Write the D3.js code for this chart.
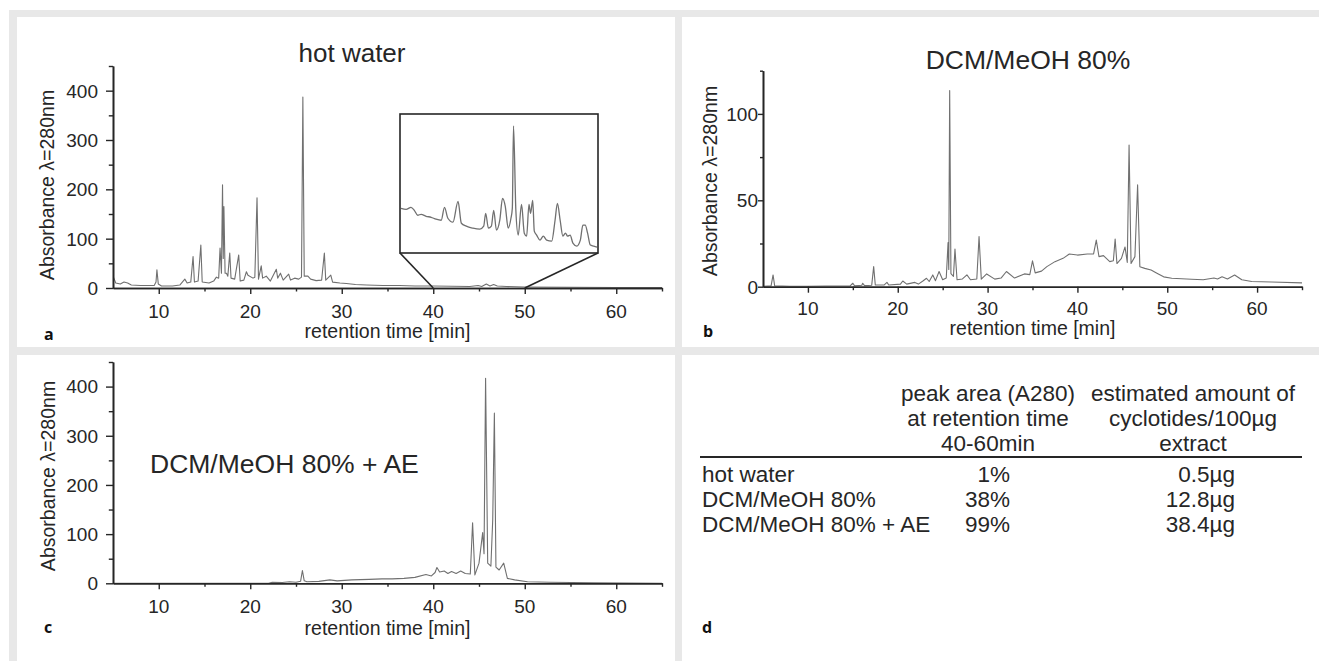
<!DOCTYPE html>
<html>
<head>
<meta charset="utf-8">
<script src="https://cdn.jsdelivr.net/npm/d3@7"></script>
<style>
  body { margin: 0; background: #fff; }
  svg { display: block; font-family: "Liberation Sans", Arial, sans-serif; }
</style>
</head>
<body>
<script>
// ---- data ----
// hot water chromatogram (a)
const hotTime = [5.05, 5.3, 5.8, 6.2, 6.6, 7.0, 8.0, 9.5, 9.7, 9.8, 9.95, 10.3, 11.5, 12.3, 12.85, 13.1, 13.5, 13.75, 13.9, 14.3,
    14.6, 14.75, 15.5, 16.0, 16.3, 16.55, 16.7, 16.85, 16.97, 17.05, 17.12, 17.25, 17.4, 17.55, 17.76, 17.9, 18.3, 18.74, 18.9, 19.3,
    19.58, 19.75, 20.3, 20.5, 20.74, 20.9, 21.2, 21.35, 21.75, 22.2, 22.85, 23.0, 23.3, 23.6, 24.2, 24.4, 24.85, 25.3, 25.6, 25.75,
    25.9, 26.3, 26.6, 27.2, 27.8, 28.1, 28.25, 28.8, 29.0, 29.8, 30.5, 31.5, 32.7, 34.5, 36.3, 38.0, 40.0, 42.0, 44.0, 44.9,
    45.3, 45.8, 46.2, 46.6, 47.0, 48.0, 50.0, 55.0, 60.0, 65.0];
const hotAbs = [22, 10, 8, 12, 10, 6, 5, 5, 12, 37, 8, 4, 4, 6, 18, 10, 12, 64, 12, 14,
    87, 12, 10, 14, 22, 20, 81, 30, 209, 60, 165, 30, 30, 24, 71, 20, 18, 67, 14, 16,
    33, 26, 20, 22, 183, 18, 45, 20, 24, 14, 38, 20, 30, 16, 28, 16, 20, 18, 22, 387,
    24, 24, 18, 15, 16, 71, 16, 26, 12, 10, 9, 7, 6, 5, 5, 4, 4, 3.5, 3, 5,
    3, 8, 4, 7, 4, 3, 2, 1.5, 1, 1];

// zoomed inset of (a), 40-50 min, relative units
const insetTime = [40.0, 40.26, 40.51, 40.68, 40.85, 41.03, 41.28, 41.54, 41.79, 42.05, 42.22, 42.39, 42.65, 42.91, 43.08, 43.33,
    43.67, 44.02, 44.22, 44.32, 44.46, 44.61, 44.73, 44.87, 45.04, 45.18, 45.32, 45.47, 45.61, 45.68, 45.74, 45.86, 45.98, 46.15,
    46.29, 46.41, 46.53, 46.61, 46.72, 46.8, 46.92, 47.09, 47.26, 47.43, 47.69, 47.86, 47.98, 48.12, 48.26, 48.39, 48.5, 48.63,
    48.77, 48.97, 49.15, 49.28, 49.4, 49.52, 49.66, 49.83, 50.0];
const insetAbs = [45, 44, 46, 43, 38, 39, 37, 36, 34, 33, 46, 35, 31, 52, 30, 27,
    25, 24, 27, 40, 25, 27, 43, 23, 33, 55, 47, 25, 35, 45, 128, 43, 18, 49,
    20, 17, 49, 40, 53, 22, 18, 13, 17, 13, 12, 33, 50, 33, 17, 20, 17, 18,
    10, 7, 13, 28, 28, 20, 8, 7, 6];

// DCM/MeOH 80% chromatogram (b)
const dcmTime = [5.1, 5.9, 6.12, 6.3, 8, 10, 12, 14.7, 15.0, 15.2, 16.0, 16.1, 16.3, 17.1, 17.32, 17.5, 18.5, 18.8, 19.0, 20.3,
    20.56, 21.0, 21.9, 22.3, 22.8, 23.2, 23.5, 23.9, 24.2, 24.6, 25.0, 25.4, 25.6, 25.68, 25.78, 25.92, 26.2, 26.37, 26.6, 27.2,
    27.7, 28.1, 28.8, 29.05, 29.3, 29.9, 30.8, 31.5, 32.1, 33.0, 34.1, 34.7, 35.0, 35.3, 36.0, 36.6, 37.5, 38.4, 39.1, 40.0,
    41.1, 41.8, 42.1, 42.4, 42.9, 43.6, 44.0, 44.2, 44.4, 44.9, 45.3, 45.55, 45.75, 45.97, 46.4, 46.7, 46.95, 47.5, 48.2, 48.9,
    49.6, 50.5, 52.7, 54.0, 55.2, 55.6, 56.1, 56.7, 57.5, 58.3, 59.4, 61.6, 65.0];
const dcmAbs = [0.3, 0.5, 6.8, 0.5, 0.3, 0.3, 0.4, 0.5, 2, 0.5, 0.8, 2, 0.6, 0.8, 11.6, 1, 1, 2.5, 1, 1.5,
    3.3, 1.5, 2.5, 1.5, 3.3, 4.9, 3, 6.8, 3.5, 8.8, 4, 5, 25.5, 10, 113.5, 7.6, 6, 21.8, 4, 4.5,
    6.8, 4, 4.5, 29, 4.4, 7.4, 4.4, 5, 8.8, 5, 7.4, 7, 15, 8, 9, 11.6, 14.5, 16.4, 18.9, 18.3,
    18.9, 19, 27, 17.4, 18, 14.5, 15, 27.6, 13.4, 16.4, 23, 14, 82, 13.4, 17.4, 58.9, 11.6, 10.6, 9.7, 7.7,
    5.7, 4.9, 4.3, 4, 5, 4.5, 5.7, 4.5, 6.8, 4, 3, 2.7, 2.2];

// DCM/MeOH 80% + AE chromatogram (c)
const aeTime = [5.0, 22.0, 22.4, 23.5, 24.3, 25.0, 25.5, 25.7, 25.9, 26.2, 27.5, 28.7, 29.5, 31.1, 33.0, 34.4, 35.5, 36.8, 38.0, 39.2,
    39.8, 40.2, 40.4, 40.7, 41.2, 41.6, 42.0, 42.5, 43.0, 43.5, 44.05, 44.3, 44.55, 45.0, 45.4, 45.55, 45.72, 45.95, 46.3, 46.5,
    46.68, 46.85, 47.2, 47.7, 48.1, 48.9, 50.3, 52.7, 57.5, 65.0];
const aeAbs = [0, 0, 2, 1.5, 3, 2, 4, 26, 5, 3, 4, 7, 5, 7, 8, 9, 9, 10, 12, 18,
    15, 22, 32, 23, 25, 20, 24, 20, 25, 20, 19, 123, 17, 41, 103, 60, 417, 41, 35, 129,
    346, 33, 27, 41, 10, 7, 3, 2, 1, 0];

// ticks
const xMajor = [10, 20, 30, 40, 50, 60];
const xMinor = [15, 25, 35, 45, 55, 65];
const yMajorBig = [0, 100, 200, 300, 400];
const yMinorBig = [50, 150, 250, 350, 450];
const yMajorB = [0, 50, 100];
const yMinorB = [25, 75, 125];

// table (d)
const headPeak = ['peak area (A280)', 'at retention time', '40-60min'];
const headAmount = ['estimated amount of', 'cyclotides/100µg', 'extract'];
const rowNames = ['hot water', 'DCM/MeOH 80%', 'DCM/MeOH 80% + AE'];
const rowPeak = ['1%', '38%', '99%'];
const rowAmount = ['0.5µg', '12.8µg', '38.4µg'];

// ---- drawing ----
const W = 1319, H = 661;
const ink = '#262626', trace = '#707070';

const svg = d3.select('body').append('svg').attr('width', W).attr('height', H);

// grey frame with four white panels
svg.append('rect').attr('x', 9).attr('y', 10).attr('width', W - 9).attr('height', H - 10).attr('fill', '#e8e8e8');
[[17, 17, 658, 330], [682, 17, 637, 330], [17, 355, 658, 306], [682, 355, 637, 306]].forEach(p => {
    svg.append('rect').attr('x', p[0]).attr('y', p[1]).attr('width', p[2]).attr('height', p[3]).attr('fill', '#fff');
});

function addText(g, str, x, y, opt) {
    const o = opt || {};
    const tf = `translate(${x},${y})` + (o.rotate ? ' rotate(-90)' : '');
    return g.append('text')
        .attr('transform', tf)
        .attr('text-anchor', o.anchor || 'middle')
        .attr('font-size', o.size || 18)
        .attr('font-weight', o.weight || 'normal')
        .attr('font-family', o.family || null)
        .attr('fill', o.fill || ink)
        .text(str);
}

function drawPanel(cfg) {
    const g = svg.append('g');
    const x = d3.scaleLinear().domain([5, 65]).range(cfg.xr);
    const y = d3.scaleLinear().domain([0, cfg.ymax]).range(cfg.yr);

    g.append('path')
        .datum(d3.zip(cfg.t, cfg.v))
        .attr('fill', 'none')
        .attr('stroke', trace)
        .attr('stroke-width', 1.1)
        .attr('stroke-linejoin', 'round')
        .attr('d', d3.line().x(d => x(d[0])).y(d => y(d[1])));

    const axisStyle = sel => {
        sel.select('.domain').attr('stroke', ink).attr('stroke-width', 1.6);
        sel.selectAll('.tick line').attr('stroke', ink).attr('stroke-width', 1.4);
    };

    g.append('g').attr('transform', `translate(0,${cfg.yr[0]})`)
        .call(d3.axisBottom(x).tickValues(xMajor).tickSize(6).tickSizeOuter(0).tickFormat(''))
        .call(axisStyle);
    g.append('g').attr('transform', `translate(0,${cfg.yr[0]})`)
        .call(d3.axisBottom(x).tickValues(xMinor).tickSize(3.5).tickSizeOuter(0).tickFormat(''))
        .call(axisStyle);
    g.append('g').attr('transform', `translate(${cfg.xr[0]},0)`)
        .call(d3.axisLeft(y).tickValues(cfg.yMajor).tickSize(cfg.yTick).tickSizeOuter(0).tickFormat(''))
        .call(axisStyle);
    g.append('g').attr('transform', `translate(${cfg.xr[0]},0)`)
        .call(d3.axisLeft(y).tickValues(cfg.yMinor).tickSize(cfg.yTick * 0.6).tickSizeOuter(0).tickFormat(''))
        .call(axisStyle);

    xMajor.forEach(v => addText(g, v, x(v), cfg.yr[0] + cfg.xLabDy, { size: cfg.tick }));
    cfg.yMajor.forEach(v => addText(g, v, cfg.xr[0] - cfg.yLabDx, y(v) + cfg.tick * 0.36, { size: cfg.tick, anchor: 'end' }));

    addText(g, 'retention time [min]', (cfg.xr[0] + cfg.xr[1]) / 2, cfg.xTitleY, { size: cfg.lab });
    addText(g, 'Absorbance \u03bb=280nm', cfg.yTitle[0], cfg.yTitle[1], { size: cfg.lab, rotate: true });

    addText(g, cfg.title, cfg.titlePos[0], cfg.titlePos[1], { size: cfg.titleSize, anchor: cfg.titleAnchor });
    addText(g, cfg.letter, cfg.letterPos[0], cfg.letterPos[1], { size: 16, weight: 'bold', anchor: 'start', family: '"Open Sans", sans-serif', fill: '#111' });
    return { g, x, y };
}

// (a) hot water
const pa = drawPanel({
    t: hotTime, v: hotAbs, ymax: 450, xr: [113, 662], yr: [288, 66],
    yMajor: yMajorBig, yMinor: yMinorBig, yTick: 7, tick: 19, lab: 19.5,
    xLabDy: 30, yLabDx: 15, xTitleY: 338, yTitle: [54, 185],
    title: 'hot water', titlePos: [352, 62], titleSize: 26, titleAnchor: 'middle',
    letter: 'a', letterPos: [44, 340]
});

// inset of (a)
const ix = d3.scaleLinear().domain([40, 50]).range([401, 597]);
const iy = d3.scaleLinear().domain([0, 140]).range([253, 114]);
pa.g.append('path')
    .datum(d3.zip(insetTime, insetAbs))
    .attr('fill', 'none').attr('stroke', trace).attr('stroke-width', 1.3)
    .attr('d', d3.line().x(d => ix(d[0])).y(d => iy(d[1])).curve(d3.curveMonotoneX));
pa.g.append('rect')
    .attr('x', ix.range()[0] - 1).attr('y', iy.range()[1])
    .attr('width', ix.range()[1] - ix.range()[0] + 2).attr('height', iy.range()[0] - iy.range()[1])
    .attr('fill', 'none').attr('stroke', ink).attr('stroke-width', 1.6);
[[ix.range()[0] - 1, 40], [ix.range()[1] + 1, 50]].forEach(d => {
    pa.g.append('line')
        .attr('x1', d[0]).attr('y1', iy.range()[0])
        .attr('x2', pa.x(d[1])).attr('y2', pa.y(0))
        .attr('stroke', ink).attr('stroke-width', 1.6);
});

// (b) DCM/MeOH 80%
drawPanel({
    t: dcmTime, v: dcmAbs, ymax: 125, xr: [763, 1302], yr: [286.7, 70.7],
    yMajor: yMajorB, yMinor: yMinorB, yTick: 5, tick: 19, lab: 19.5,
    xLabDy: 28, yLabDx: 5, xTitleY: 335, yTitle: [717, 181],
    title: 'DCM/MeOH 80%', titlePos: [1028, 69], titleSize: 26.5, titleAnchor: 'middle',
    letter: 'b', letterPos: [703, 337]
});

// (c) DCM/MeOH 80% + AE
drawPanel({
    t: aeTime, v: aeAbs, ymax: 450, xr: [113, 662], yr: [583.3, 362],
    yMajor: yMajorBig, yMinor: yMinorBig, yTick: 7, tick: 19, lab: 19.5,
    xLabDy: 30, yLabDx: 15, xTitleY: 635, yTitle: [55, 476],
    title: 'DCM/MeOH 80% + AE', titlePos: [150, 473], titleSize: 26.5, titleAnchor: 'start',
    letter: 'c', letterPos: [44, 633]
});

// (d) table
const gd = svg.append('g');
const tsz = 22.5;
headPeak.forEach((s, i) => addText(gd, s, 988, 401 + i * 25, { size: tsz }));
headAmount.forEach((s, i) => addText(gd, s, 1193, 401 + i * 25, { size: tsz }));
gd.append('line').attr('x1', 700).attr('x2', 1302).attr('y1', 457).attr('y2', 457)
    .attr('stroke', ink).attr('stroke-width', 2);
rowNames.forEach((s, i) => {
    addText(gd, s, 702, 482 + i * 25, { size: tsz, anchor: 'start' });
    addText(gd, rowPeak[i], 1010, 482 + i * 25, { size: tsz, anchor: 'end' });
    addText(gd, rowAmount[i], 1235, 482 + i * 25, { size: tsz, anchor: 'end' });
});
addText(gd, 'd', 702, 633, { size: 16, weight: 'bold', anchor: 'start', family: '"Open Sans", sans-serif', fill: '#111' });
</script>
</body>
</html>
